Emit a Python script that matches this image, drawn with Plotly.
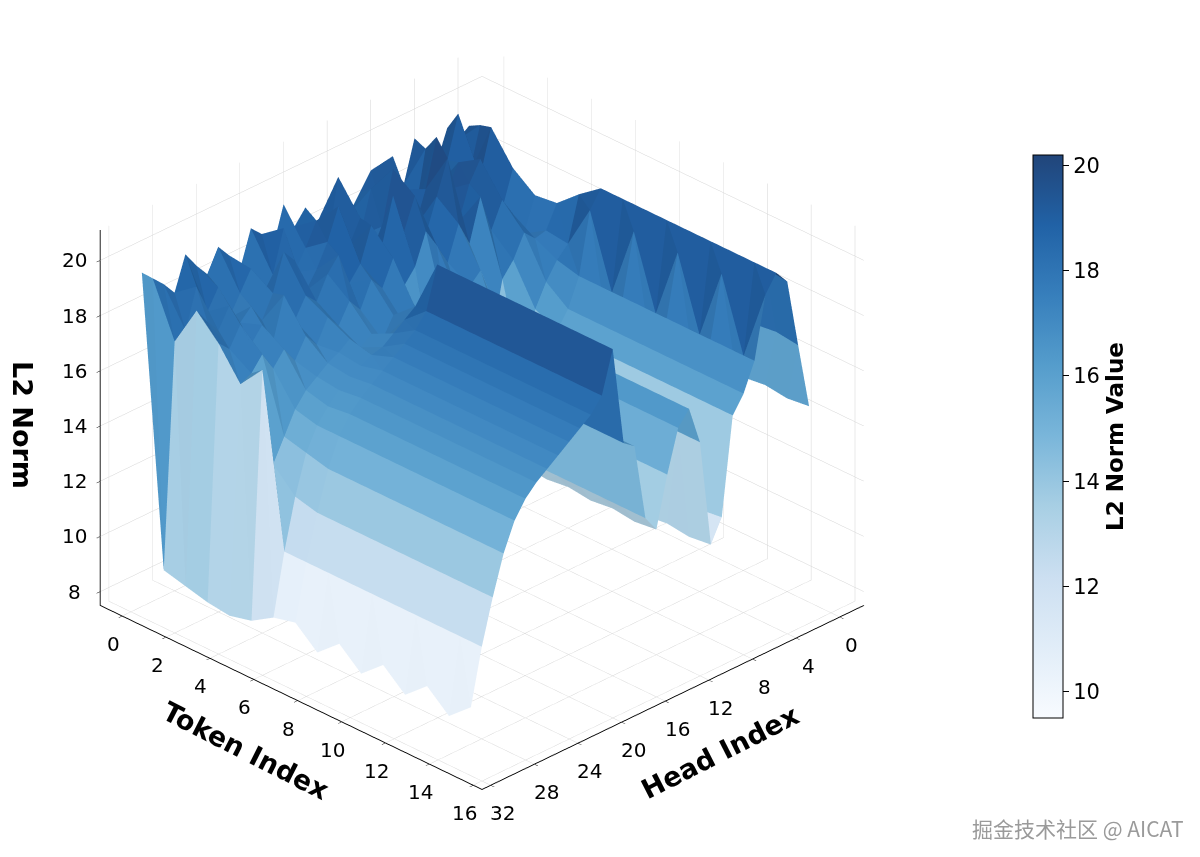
import numpy as np
import plotly.graph_objects as go

# token index (rows) and head index (columns)
tokens = list(range(16))
heads = list(range(32))

# L2 norm per token (row) and head (column)
l2_norm = [
    [18.6, 19.2, 18.9, 19.5, 18.4, 18.8, 19.7, 18.2, 19.0, 18.5, 19.3, 18.7, 18.1, 19.4, 18.8, 18.3,
     19.1, 18.6, 19.6, 18.2, 18.9, 19.3, 18.0, 18.7, 19.2, 18.4, 18.9, 19.5, 18.3, 18.8, 19.2, 19.6],
    [17.8, 18.9, 19.8, 18.2, 20.6, 19.1, 18.3, 19.9, 17.6, 18.8, 20.2, 18.5, 19.4, 17.9, 19.0, 20.4,
     18.1, 19.2, 18.4, 17.7, 19.5, 18.0, 17.4, 18.6, 17.9, 17.2, 18.5, 17.8, 18.9, 17.5, 17.3, 9.2],
    [16.9, 18.1, 19.0, 20.3, 18.7, 17.5, 19.6, 18.8, 20.9, 19.2, 18.0, 19.7, 20.5, 18.6, 17.8, 19.3,
     18.5, 20.1, 19.0, 18.2, 17.6, 18.9, 19.4, 18.1, 17.3, 18.0, 17.6, 18.4, 17.7, 18.2, 18.8, 9.0],
    [16.5, 17.6, 18.4, 19.2, 17.9, 18.8, 20.1, 19.4, 18.2, 20.7, 19.5, 18.3, 19.9, 18.8, 20.3, 18.7,
     19.6, 18.4, 17.9, 19.1, 18.6, 17.8, 18.2, 17.5, 18.6, 17.1, 17.9, 17.4, 18.3, 17.6, 18.0, 8.8],
    [16.0, 17.2, 18.0, 18.6, 17.4, 18.3, 19.0, 18.1, 19.5, 18.0, 18.9, 17.7, 18.5, 19.2, 18.1, 17.6,
     18.8, 17.9, 18.4, 17.5, 18.0, 17.3, 17.8, 17.0, 17.5, 16.8, 17.4, 16.9, 17.6, 17.1, 16.9, 8.7],
    [15.6, 17.0, 18.4, 18.7, 17.9, 17.8, 18.2, 17.4, 16.9, 14.8, 17.6, 17.2, 17.0, 16.2, 14.3, 16.5,
     17.4, 17.0, 17.5, 16.8, 17.2, 16.9, 17.4, 17.1, 16.9, 16.6, 16.3, 15.8, 15.0, 14.2, 17.8, 8.9],
    [15.0, 16.8, 19.0, 19.4, 17.8, 17.4, 16.8, 16.0, 13.5, 12.4, 16.0, 16.9, 16.4, 15.2, 13.4, 14.6,
     16.6, 16.9, 18.2, 17.9, 17.6, 17.3, 17.2, 17.0, 16.8, 16.5, 16.1, 15.6, 14.8, 13.4, 11.6, 9.4],
    [14.6, 17.0, 19.5, 20.0, 19.4, 17.2, 16.2, 15.6, 12.1, 11.3, 15.2, 16.6, 16.1, 14.6, 12.8, 13.4,
     16.2, 16.5, 20.1, 18.6, 18.1, 17.8, 17.5, 17.2, 16.9, 16.6, 16.2, 15.6, 14.6, 13.2, 11.6, 9.6],
    [14.5, 17.1, 19.6, 20.0, 16.8, 17.2, 16.2, 15.6, 12.0, 11.2, 15.2, 16.6, 16.1, 14.6, 12.7, 13.4,
     16.2, 16.5, 20.1, 18.6, 18.1, 17.8, 17.5, 17.2, 16.9, 16.6, 16.2, 15.6, 14.6, 13.2, 11.6, 8.9],
    [14.6, 17.0, 19.5, 20.0, 19.4, 17.2, 16.2, 15.6, 12.1, 11.3, 15.2, 16.6, 16.1, 14.6, 12.8, 13.4,
     16.2, 16.5, 20.1, 18.6, 18.1, 17.8, 17.5, 17.2, 16.9, 16.6, 16.2, 15.6, 14.6, 13.2, 11.6, 9.6],
    [14.5, 17.1, 19.6, 20.0, 16.8, 17.2, 16.2, 15.6, 12.0, 11.2, 15.2, 16.6, 16.1, 14.6, 12.7, 13.4,
     16.2, 16.5, 20.1, 18.6, 18.1, 17.8, 17.5, 17.2, 16.9, 16.6, 16.2, 15.6, 14.6, 13.2, 11.6, 8.9],
    [14.6, 17.0, 19.5, 20.0, 19.4, 17.2, 16.2, 15.6, 12.1, 11.3, 15.2, 16.6, 16.1, 14.6, 12.8, 13.4,
     16.2, 16.5, 20.1, 18.6, 18.1, 17.8, 17.5, 17.2, 16.9, 16.6, 16.2, 15.6, 14.6, 13.2, 11.6, 9.6],
    [14.5, 17.1, 19.6, 20.0, 16.8, 17.2, 16.2, 15.6, 12.0, 11.2, 15.2, 16.6, 16.1, 14.6, 12.7, 13.4,
     16.2, 16.5, 20.1, 18.6, 18.1, 17.8, 17.5, 17.2, 16.9, 16.6, 16.2, 15.6, 14.6, 13.2, 11.6, 8.9],
    [14.6, 17.0, 19.5, 20.0, 19.4, 17.2, 16.2, 15.6, 12.1, 11.3, 15.2, 16.6, 16.1, 14.6, 12.8, 13.4,
     16.2, 16.5, 20.1, 18.6, 18.1, 17.8, 17.5, 17.2, 16.9, 16.6, 16.2, 15.6, 14.6, 13.2, 11.6, 9.6],
    [14.5, 17.1, 19.6, 20.0, 16.8, 17.2, 16.2, 15.6, 12.0, 11.2, 15.2, 16.6, 16.1, 14.6, 12.7, 13.4,
     16.2, 16.5, 20.1, 18.6, 18.1, 17.8, 17.5, 17.2, 16.9, 16.6, 16.2, 15.6, 14.6, 13.2, 11.6, 8.9],
    [14.6, 17.0, 19.5, 20.0, 19.4, 17.2, 16.2, 15.6, 12.1, 11.3, 15.2, 16.6, 16.1, 14.6, 12.8, 13.4,
     16.2, 16.5, 20.1, 18.6, 18.1, 17.8, 17.5, 17.2, 16.9, 16.6, 16.2, 15.6, 14.6, 13.2, 11.6, 9.6],
]

token_ticks = [0, 2, 4, 6, 8, 10, 12, 14, 16]
head_ticks = [0, 4, 8, 12, 16, 20, 24, 28, 32]
z_ticks = [8, 10, 12, 14, 16, 18, 20]
cbar_ticks = [10, 12, 14, 16, 18, 20]

head_range = [-2.2, 32.8]
token_range = [-1.0, 16.4]
z_range = [7.5, 21.1]

# matplotlib "Blues", drawn with alpha 0.9 on white
blues = ["#f7fbff", "#deebf7", "#c6dbef", "#9ecae1", "#6baed6",
         "#4292c6", "#2171b5", "#08519c", "#08306b"]


def fade(hexcol, alpha=0.9):
    r, g, b = (int(hexcol[n:n + 2], 16) for n in (1, 3, 5))
    r, g, b = (round(alpha * v + (1 - alpha) * 255) for v in (r, g, b))
    return f"rgb({r},{g},{b})"


colorscale = [[n / (len(blues) - 1), fade(c)] for n, c in enumerate(blues)]

Z = np.array(l2_norm)
HH, TT = np.meshgrid(heads, tokens)
nt, nh = Z.shape
idx = np.arange(nt * nh).reshape(nt, nh)

# two triangles per grid cell, coloured by the cell's mean value (like plot_surface)
a = idx[:-1, :-1].ravel()
b = idx[:-1, 1:].ravel()
c = idx[1:, 1:].ravel()
d = idx[1:, :-1].ravel()
cell_mean = ((Z[:-1, :-1] + Z[:-1, 1:] + Z[1:, 1:] + Z[1:, :-1]) / 4).ravel()

fig = go.Figure()
fig.add_trace(go.Mesh3d(
    x=HH.ravel(), y=TT.ravel(), z=Z.ravel(),
    i=np.concatenate([a, a]), j=np.concatenate([b, c]), k=np.concatenate([c, d]),
    intensity=np.concatenate([cell_mean, cell_mean]),
    intensitymode="cell",
    colorscale=colorscale, cmin=9.5, cmax=20.2,
    flatshading=True,
    lighting=dict(ambient=0.86, diffuse=0.22, specular=0.0, roughness=1.0, fresnel=0.0),
    lightposition=dict(x=100000, y=100000, z=-30000),
    hoverinfo="skip",
    colorbar=dict(
        x=0.846, xanchor="left", y=0.5, yanchor="middle",
        len=0.68, thickness=30,
        outlinewidth=1, outlinecolor="black",
        ticks="outside", ticklen=6, tickcolor="black",
        tickvals=cbar_ticks,
        tickfont=dict(family="DejaVu Sans", size=21, color="black"),
        title=dict(text="L2 Norm Value", side="right",
                   font=dict(family="DejaVu Sans", size=23, color="black", weight="bold")),
    ),
))

axis_common = dict(
    showbackground=True, backgroundcolor="white",
    gridcolor="#d4d4d4", gridwidth=1,
    showline=True, linecolor="black", linewidth=2,
    zeroline=False, showspikes=False,
    ticks="outside", tickcolor="black",
    showticklabels=False, title=dict(text=""),
)

# horizontal tick labels, like matplotlib, placed on the axis edges
tick_font = dict(family="DejaVu Sans", size=20, color="black")
scene_labels = []
for t in token_ticks:
    scene_labels.append(dict(x=head_range[1], y=t, z=z_range[0], text=str(t), showarrow=False,
                             xshift=-9, yshift=-28, font=tick_font))
for h in head_ticks:
    scene_labels.append(dict(x=h, y=token_range[1], z=z_range[0], text=str(h), showarrow=False,
                             xshift=12, yshift=-28, font=tick_font))
for v in z_ticks:
    scene_labels.append(dict(x=head_range[1], y=token_range[0], z=v, text=str(v), showarrow=False,
                             xshift=-26, yshift=0, font=tick_font))

title_font = dict(family="DejaVu Sans", size=27, color="black", weight="bold")

fig.update_layout(
    width=1200, height=857,
    paper_bgcolor="white",
    margin=dict(l=0, r=0, t=0, b=0),
    scene=dict(
        domain=dict(x=[0.0, 0.79], y=[0.0, 1.0]),
        xaxis=dict(axis_common, range=head_range, tickvals=head_ticks),
        yaxis=dict(axis_common, range=token_range, tickvals=token_ticks),
        zaxis=dict(axis_common, range=z_range, tickvals=z_ticks),
        aspectmode="manual", aspectratio=dict(x=1.26, y=1.26, z=1.0),
        camera=dict(eye=dict(x=1.19, y=1.19, z=0.876), center=dict(x=0, y=0, z=-0.05),
                    projection=dict(type="orthographic")),
        annotations=scene_labels,
    ),
    annotations=[
        dict(text="Token Index", x=0.198, y=0.134, xref="paper", yref="paper",
             xanchor="center", yanchor="middle",
             textangle=27, showarrow=False, font=title_font),
        dict(text="Head Index", x=0.593, y=0.131, xref="paper", yref="paper",
             xanchor="center", yanchor="middle",
             textangle=-27, showarrow=False, font=title_font),
        dict(text="L2 Norm", x=0.012, y=0.513, xref="paper", yref="paper",
             xanchor="center", yanchor="middle",
             textangle=90, showarrow=False, font=title_font),
        dict(text="掘金技术社区 @ AICAT", x=0.982, y=0.043, xref="paper", yref="paper",
             xanchor="right", yanchor="middle", showarrow=False,
             font=dict(family="Noto Sans CJK SC", size=21, color="#9a9a9a")),
    ],
)

fig.write_html("out.html")
